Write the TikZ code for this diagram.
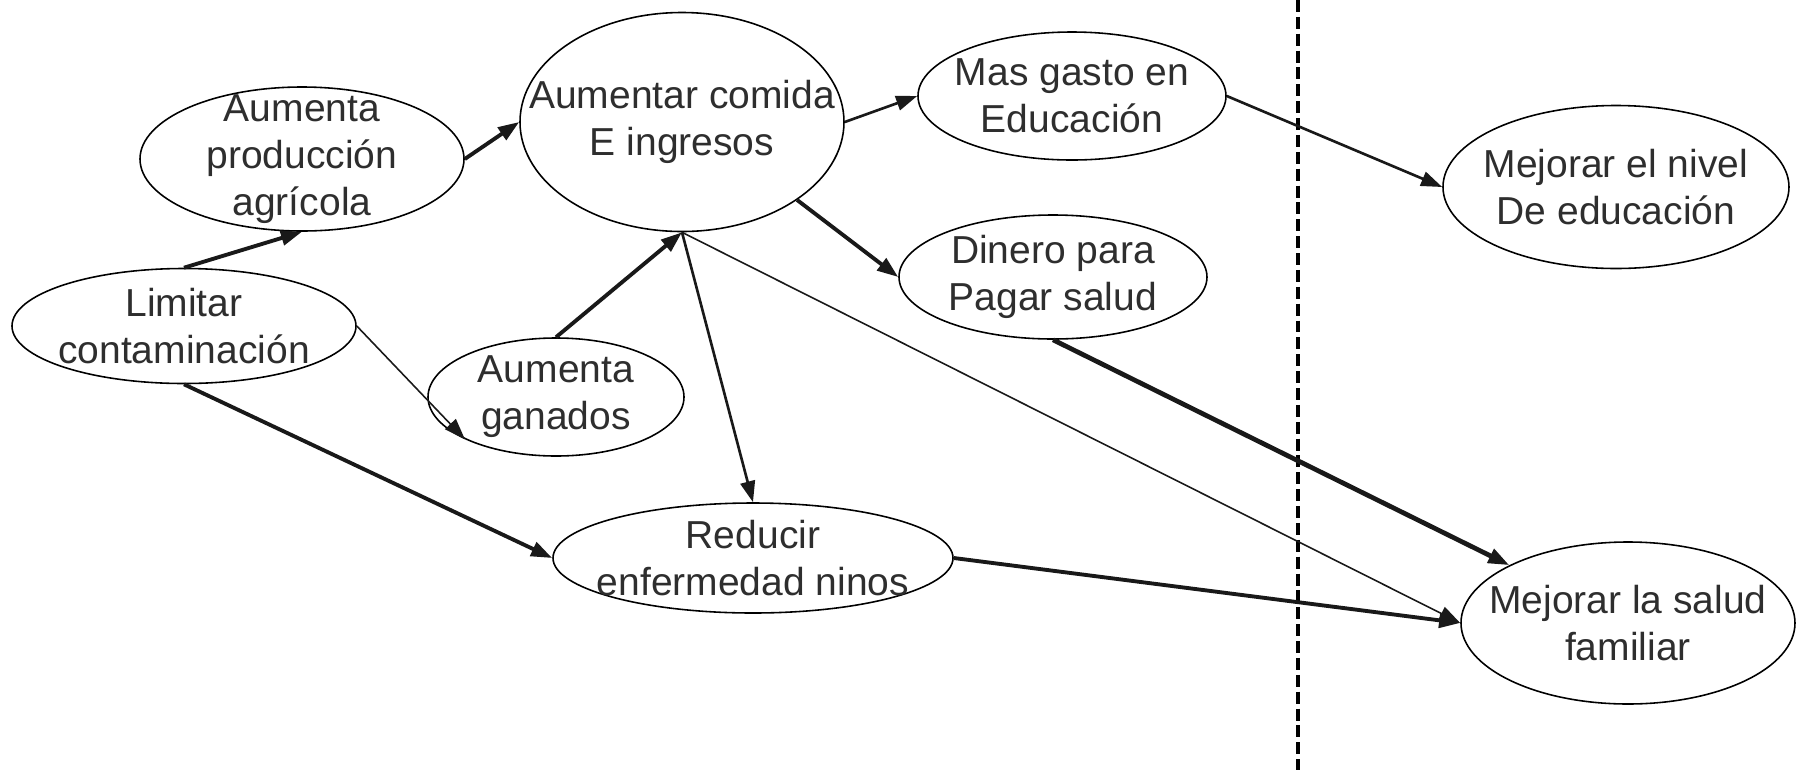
\documentclass[tikz,border=0pt]{standalone}
\usepackage{fontspec}
\setmainfont{Liberation Sans}
\usetikzlibrary{shapes.geometric}
\usetikzlibrary{arrows.meta}

\begin{document}
\begin{tikzpicture}[
  elip/.style={draw,ellipse,inner sep=-2cm,line width=0.45pt,align=center,text=black!82,font=\fontsize{11.1}{13.4}\selectfont},
  flecha/.style={-{Triangle[length=6pt,width=4.2pt]},black!90},
  gruesa/.style={flecha,line width=1.1pt},
  media/.style={flecha,line width=0.75pt},
  fina/.style={flecha,line width=0.45pt}]

\useasboundingbox (0,0) rectangle (17.97,-7.70);

\node[elip,minimum width=3.44cm,minimum height=1.15cm] (lim) at (1.84,-3.26) {Limitar\\contaminación};
\node[elip,minimum width=3.24cm,minimum height=1.44cm] (prod) at (3.02,-1.59) {Aumenta\\producción\\agrícola};
\node[elip,minimum width=3.24cm,minimum height=2.19cm] (comida) at (6.82,-1.22) {Aumentar comida\\E ingresos};
\node[elip,minimum width=2.56cm,minimum height=1.18cm] (gan) at (5.56,-3.97) {Aumenta\\ganados};
\node[elip,minimum width=4.00cm,minimum height=1.10cm] (red) at (7.53,-5.58) {Reducir\\enfermedad ninos};
\node[elip,minimum width=3.08cm,minimum height=1.28cm] (gasto) at (10.72,-0.96) {Mas gasto en\\Educación};
\node[elip,minimum width=3.08cm,minimum height=1.24cm] (dinero) at (10.53,-2.77) {Dinero para\\Pagar salud};
\node[elip,minimum width=3.46cm,minimum height=1.63cm] (nivel) at (16.16,-1.87) {Mejorar el nivel\\De educación};
\node[elip,minimum width=3.34cm,minimum height=1.62cm] (salud) at (16.28,-6.23) {Mejorar la salud\\familiar};

\coordinate (arr) at (12.98,0);
\coordinate (aba) at (12.98,-7.70);
\draw[line width=1.4pt,dash pattern=on 3.4pt off 1.4pt] (arr)--(aba);

\draw[gruesa] (lim.north)--(prod.south);
\draw[fina] (lim.east)--(gan.south west);
\draw[gruesa] (lim.south)--(red.west);
\draw[gruesa] (prod.east)--(comida.west);
\draw[gruesa] (gan.north)--(comida.south);
\draw[media] (comida.south)--(red.north);
\draw[fina] (comida.south)--(salud.west);
\draw[media] (comida.east)--(gasto.west);
\draw[gruesa] (comida.south east)--(dinero.west);
\draw[media] (gasto.east)--(nivel.west);
\draw[line width=1.35pt,flecha] (dinero.south)--(salud.north west);
\draw[gruesa] (red.east)--(salud.west);

\end{tikzpicture}
\end{document}
